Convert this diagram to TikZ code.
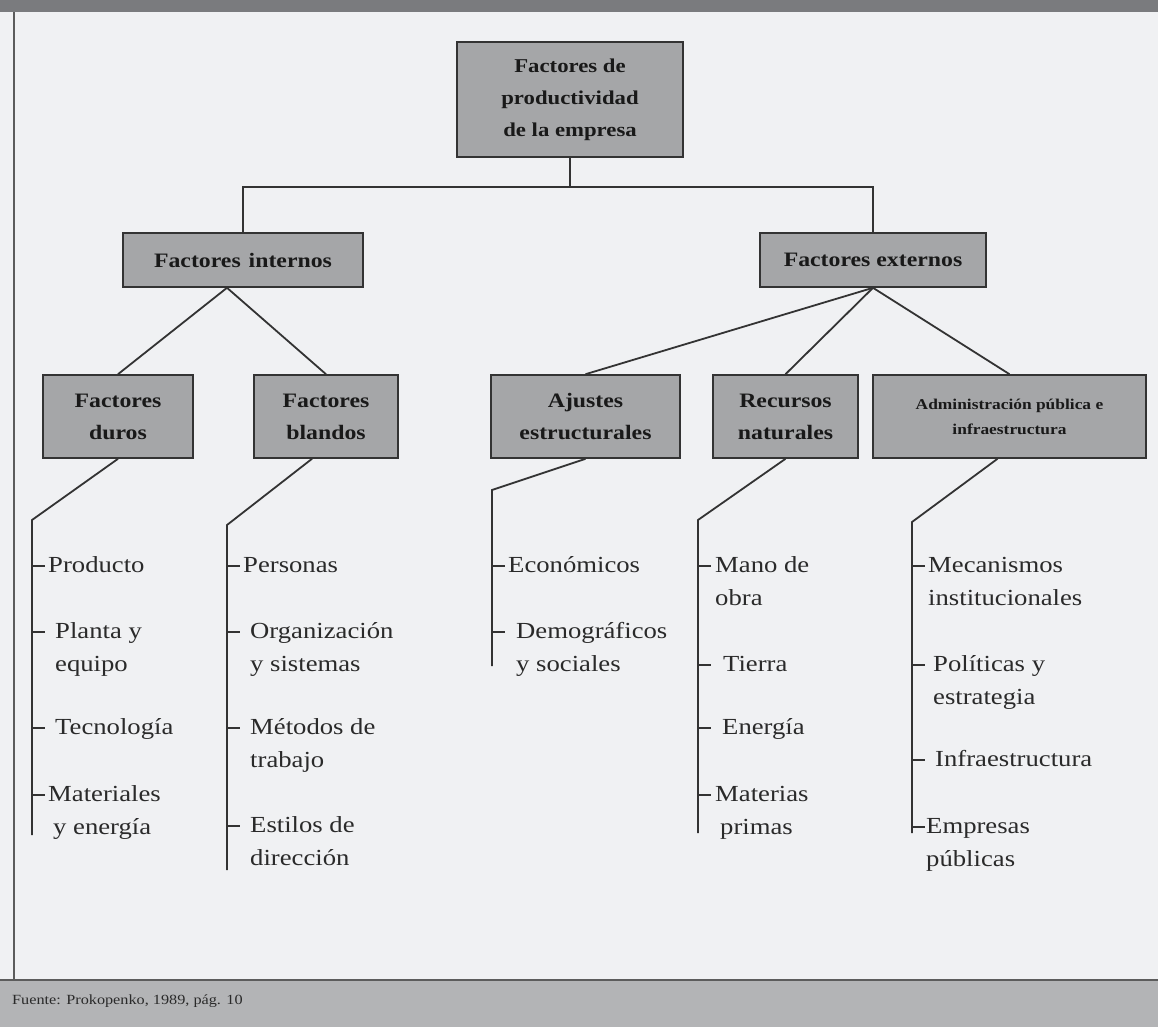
\documentclass[tikz,border=0pt]{standalone}
\usepackage{fontspec}
\setmainfont{Liberation Serif}[FakeStretch=1.16]
\definecolor{bg}{HTML}{F0F1F3}
\definecolor{boxgray}{HTML}{A5A6A8}
\definecolor{topbar}{HTML}{7A7B7E}
\definecolor{botbar}{HTML}{B3B4B6}
\definecolor{ink}{HTML}{2A2A2A}
\definecolor{linec}{HTML}{333333}
\tikzset{
  box/.style={draw=linec, line width=1.6bp, fill=boxgray, align=center, inner sep=0pt,
    text=black!90, font=\fontsize{20.5bp}{32bp}\selectfont\bfseries},
  conn/.style={draw=linec, line width=1.8bp},
  itemtxt/.style={anchor=base west, inner sep=0pt, text=ink,
    font=\fontsize{23bp}{33bp}\selectfont},
}
\newcommand\leaf[5]{%
  \coordinate (#1t) at (#2,#3);
  \draw[conn] (#1t) -- ++(13,0);
  \node[itemtxt] (#1) at ([xshift=#4bp,yshift=-6bp]#1t) {\begin{tabular}[t]{@{}l@{}}#5\end{tabular}};}
\begin{document}
\begin{tikzpicture}[x=1bp,y=-1bp]
\useasboundingbox (0,0) rectangle (1158,1027);
\fill[bg] (0,0) rectangle (1158,1027);
\fill[topbar] (0,0) rectangle (1158,12);
\fill[botbar] (0,980) rectangle (1158,1027);
\draw[linec!80, line width=2bp] (0,980) -- (1158,980);
\draw[linec!80, line width=2bp] (14,12) -- (14,980);
\node[anchor=west, inner sep=0pt, text=ink, font=\fontsize{14bp}{16bp}\selectfont] (fuente) at (12,1001) {Fuente: Prokopenko, 1989, pág. 10};

% boxes
\node[box, minimum width=226bp, minimum height=115bp, font=\fontsize{19.6bp}{32bp}\selectfont\bfseries] (top) at (570,99.5) {Factores de\\productividad\\de la empresa};
\node[box, minimum width=240bp, minimum height=54bp] (int) at (243,260) {Factores\hspace{8bp}internos};
\node[box, minimum width=226bp, minimum height=54bp] (ext) at (873,260) {Factores externos};
\node[box, minimum width=150bp, minimum height=83bp] (duros) at (118,416.5) {Factores\\duros};
\node[box, minimum width=144bp, minimum height=83bp] (blandos) at (326,416.5) {Factores\\blandos};
\node[box, minimum width=189bp, minimum height=83bp] (ajustes) at (585.5,416.5) {Ajustes\\estructurales};
\node[box, minimum width=145bp, minimum height=83bp] (recursos) at (785.5,416.5) {Recursos\\naturales};
\node[box, minimum width=273bp, minimum height=83bp, font=\fontsize{15bp}{25bp}\selectfont\bfseries] (admin) at (1009.5,416.5) {Administración pública e\\infraestructura};

% tree connectors
\coordinate (bar) at (570,187);
\draw[conn] (top.south) -- (bar);
\draw[conn] (int.north) |- (bar) -| (ext.north);
\draw[conn] ([xshift=-16bp]int.south) -- (duros.north);
\draw[conn] ([xshift=-16bp]int.south) -- (blandos.north);
\draw[conn] (ext.south) -- (ajustes.north);
\draw[conn] (ext.south) -- (recursos.north);
\draw[conn] (ext.south) -- (admin.north);

% brackets
\coordinate (dc) at (32,520);   \coordinate (de) at (32,835);
\coordinate (bc) at (227,525);  \coordinate (be) at (227,870);
\coordinate (ac) at (492,490);  \coordinate (ae) at (492,666);
\coordinate (rc) at (698,520);  \coordinate (re) at (698,833);
\coordinate (mc) at (912,522);  \coordinate (me) at (912,833);
\draw[conn] (duros.south) -- (dc) -- (de);
\draw[conn] ([xshift=-14bp]blandos.south) -- (bc) -- (be);
\draw[conn] (ajustes.south) -- (ac) -- (ae);
\draw[conn] (recursos.south) -- (rc) -- (re);
\draw[conn] ([xshift=-12bp]admin.south) -- (mc) -- (me);

% leaves
\leaf{d1}{32}{566}{16}{Producto}
\leaf{d2}{32}{632}{23}{Planta y\\equipo}
\leaf{d3}{32}{728}{23}{Tecnología}
\leaf{d4}{32}{795}{16}{Materiales\\\hspace{5bp}y energía}

\leaf{b1}{227}{566}{16}{Personas}
\leaf{b2}{227}{632}{23}{Organización\\y sistemas}
\leaf{b3}{227}{728}{23}{Métodos de\\trabajo}
\leaf{b4}{227}{826}{23}{Estilos de\\dirección}

\leaf{a1}{492}{566}{16}{Económicos}
\leaf{a2}{492}{632}{24}{Demográficos\\y sociales}

\leaf{r1}{698}{566}{17}{Mano de\\obra}
\leaf{r2}{698}{665}{25}{Tierra}
\leaf{r3}{698}{728}{24}{Energía}
\leaf{r4}{698}{795}{17}{Materias\\\hspace{5bp}primas}

\leaf{m1}{912}{566}{16}{Mecanismos\\institucionales}
\leaf{m2}{912}{665}{21}{Políticas y\\estrategia}
\leaf{m3}{912}{760}{23}{Infraestructura}
\leaf{m4}{912}{827}{14}{Empresas\\públicas}
\end{tikzpicture}
\end{document}
